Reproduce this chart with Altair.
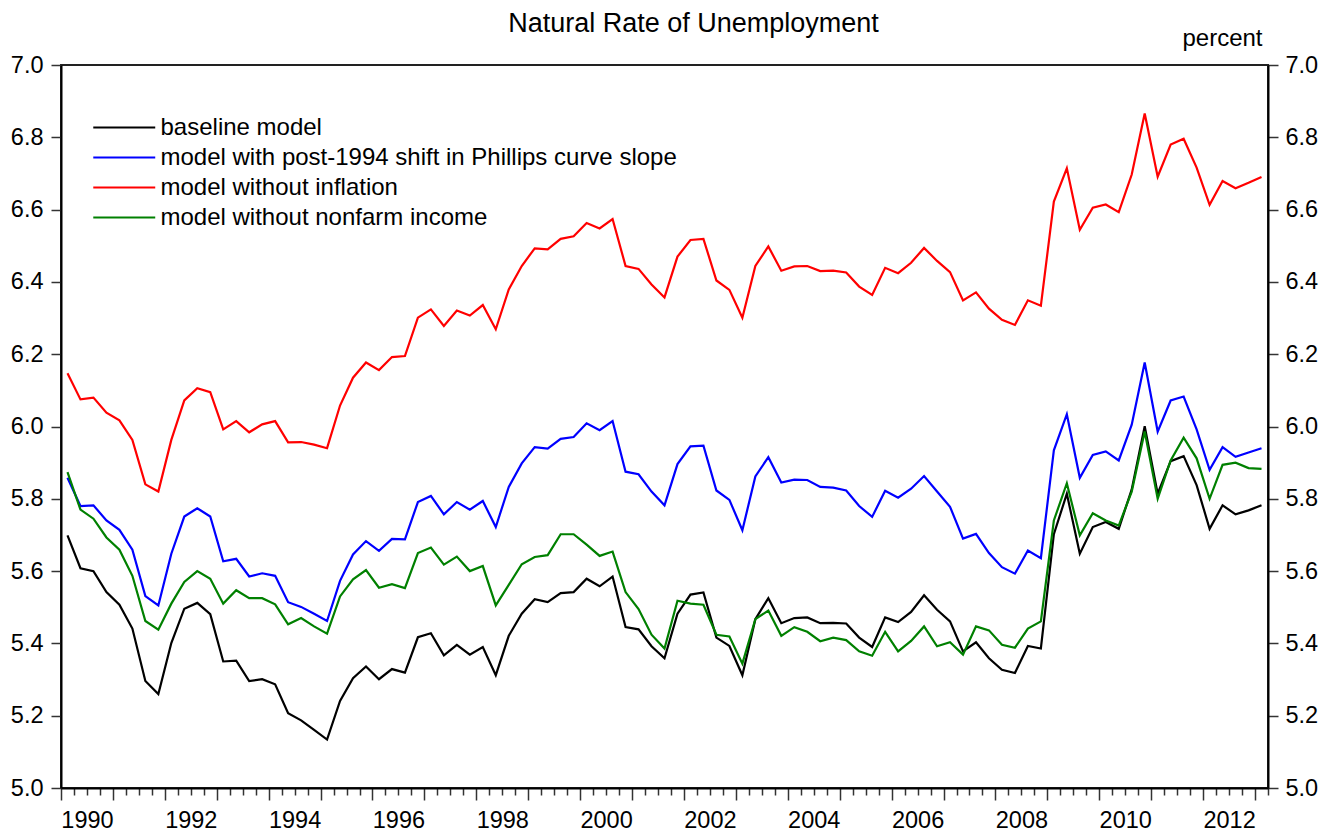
import altair as alt
import pandas as pd

series_names = [
    "baseline model",
    "model with post-1994 shift in Phillips curve slope",
    "model without inflation",
    "model without nonfarm income",
]
series_colors = ["#000000", "#0000FF", "#FF0000", "#008000"]

start_year = 1990  # quarterly, 1990Q1 ..

baseline = [
    5.699, 5.608, 5.600, 5.542, 5.507, 5.441, 5.296, 5.260, 5.401, 5.496, 5.512, 5.481, 5.350, 5.352, 5.296, 5.301,
    5.287, 5.207, 5.187, 5.161, 5.134, 5.241, 5.304, 5.336, 5.301, 5.329, 5.319, 5.417, 5.428, 5.367, 5.396, 5.369,
    5.390, 5.312, 5.421, 5.482, 5.522, 5.514, 5.539, 5.542, 5.579, 5.558, 5.585, 5.445, 5.439, 5.392, 5.359, 5.482,
    5.535, 5.541, 5.416, 5.393, 5.312, 5.467, 5.525, 5.456, 5.470, 5.472, 5.456, 5.457, 5.455, 5.416, 5.390, 5.472,
    5.459, 5.487, 5.533, 5.493, 5.461, 5.378, 5.403, 5.359, 5.327, 5.318, 5.393, 5.386, 5.702, 5.814, 5.648, 5.722,
    5.736, 5.717, 5.826, 6.001, 5.814, 5.904, 5.918, 5.838, 5.717, 5.782, 5.757, 5.768, 5.782,
]
post1994_shift = [
    5.858, 5.780, 5.782, 5.740, 5.714, 5.659, 5.531, 5.505, 5.648, 5.751, 5.774, 5.751, 5.627, 5.634, 5.585, 5.594,
    5.587, 5.514, 5.501, 5.482, 5.462, 5.573, 5.646, 5.683, 5.656, 5.689, 5.688, 5.791, 5.808, 5.757, 5.791, 5.770,
    5.794, 5.722, 5.833, 5.898, 5.943, 5.939, 5.966, 5.971, 6.009, 5.990, 6.015, 5.875, 5.868, 5.820, 5.782, 5.896,
    5.945, 5.947, 5.823, 5.797, 5.713, 5.862, 5.915, 5.845, 5.853, 5.852, 5.833, 5.831, 5.823, 5.780, 5.750, 5.822,
    5.803, 5.828, 5.863, 5.820, 5.778, 5.690, 5.703, 5.650, 5.611, 5.593, 5.657, 5.636, 5.934, 6.034, 5.858, 5.921,
    5.931, 5.906, 6.005, 6.177, 5.986, 6.072, 6.083, 5.992, 5.880, 5.943, 5.916, 5.928, 5.940,
]
no_inflation = [
    6.147, 6.075, 6.080, 6.038, 6.017, 5.963, 5.840, 5.820, 5.963, 6.072, 6.106, 6.095, 5.992, 6.015, 5.984, 6.006,
    6.015, 5.956, 5.957, 5.950, 5.940, 6.058, 6.135, 6.177, 6.156, 6.192, 6.195, 6.301, 6.324, 6.278, 6.321, 6.307,
    6.336, 6.269, 6.379, 6.444, 6.493, 6.490, 6.519, 6.526, 6.563, 6.548, 6.574, 6.444, 6.436, 6.393, 6.357, 6.470,
    6.516, 6.519, 6.404, 6.378, 6.301, 6.444, 6.498, 6.431, 6.443, 6.444, 6.430, 6.431, 6.426, 6.387, 6.364, 6.439,
    6.424, 6.453, 6.494, 6.458, 6.427, 6.349, 6.371, 6.326, 6.295, 6.281, 6.349, 6.334, 6.622, 6.714, 6.544, 6.605,
    6.614, 6.593, 6.697, 6.866, 6.691, 6.780, 6.796, 6.716, 6.613, 6.679, 6.659, 6.674, 6.690,
]
no_nonfarm = [
    5.874, 5.770, 5.745, 5.693, 5.659, 5.587, 5.462, 5.438, 5.510, 5.570, 5.600, 5.579, 5.510, 5.547, 5.525, 5.525,
    5.508, 5.453, 5.470, 5.447, 5.427, 5.530, 5.577, 5.603, 5.554, 5.564, 5.553, 5.650, 5.665, 5.618, 5.640, 5.600,
    5.614, 5.505, 5.562, 5.619, 5.639, 5.644, 5.702, 5.702, 5.673, 5.642, 5.654, 5.542, 5.495, 5.424, 5.386, 5.518,
    5.510, 5.507, 5.424, 5.419, 5.344, 5.467, 5.491, 5.421, 5.445, 5.432, 5.406, 5.416, 5.409, 5.378, 5.366, 5.432,
    5.378, 5.407, 5.447, 5.392, 5.403, 5.369, 5.447, 5.436, 5.396, 5.388, 5.441, 5.461, 5.740, 5.843, 5.699, 5.760,
    5.740, 5.726, 5.820, 5.986, 5.800, 5.906, 5.969, 5.912, 5.800, 5.894, 5.900, 5.885, 5.883,
]

y_ticks = [5.0, 5.2, 5.4, 5.6, 5.8, 6.0, 6.2, 6.4, 6.6, 6.8, 7.0]

rows = []
for k, (name, vals) in enumerate(zip(series_names, [baseline, post1994_shift, no_inflation, no_nonfarm])):
    for i, v in enumerate(vals):
        rows.append({"t": start_year + i / 4 + 0.125, "value": v, "series": name, "k": k})
df = pd.DataFrame(rows)

n_q = len(baseline)
x_max = start_year + n_q / 4
quarter_ticks = [start_year + q * 0.25 for q in range(n_q + 1)]

FONT = "Liberation Sans"
x_scale = alt.Scale(domain=[start_year, x_max], nice=False, zero=False)
y_scale = alt.Scale(domain=[5.0, 7.0], nice=False, zero=False)

lines = alt.Chart(df).mark_line(strokeWidth=2.2).encode(
    x=alt.X(
        "t:Q",
        scale=x_scale,
        axis=alt.Axis(
            orient="bottom",
            values=quarter_ticks,
            title=None,
            grid=False,
            domainColor="#000000",
            domainWidth=2,
            tickColor="#333333",
            tickWidth=1.5,
            tickSize={"condition": {"test": "datum.value % 1 == 0", "value": 12}, "value": 7},
            labelExpr="(datum.value % 2 == 0.5) ? floor(datum.value) : ''",
            labelOverlap=False,
            labelFlush=False,
            labelFontSize=23.5,
            labelColor="#000000",
            labelFont=FONT,
            labelPadding=13,
            labelBaseline="top",
        ),
    ),
    y=alt.Y(
        "value:Q",
        scale=y_scale,
        axis=alt.Axis(
            orient="left",
            values=y_ticks,
            format=".1f",
            title=None,
            grid=False,
            domainColor="#000000",
            domainWidth=2,
            tickColor="#333333",
            tickWidth=1.5,
            tickSize=10,
            labelPadding=8,
            labelFontSize=23.5,
            labelColor="#000000",
            labelFont=FONT,
        ),
    ),
    color=alt.Color(
        "series:N",
        scale=alt.Scale(domain=series_names, range=series_colors),
        sort=series_names,
        legend=alt.Legend(
            title=None,
            orient="none",
            legendX=51.25,
            legendY=50.5,
            direction="vertical",
            symbolType="M-4,0H4",
            symbolSize=240,
            symbolStrokeWidth=2.2,
            labelFontSize=24,
            labelFont=FONT,
            labelColor="#000000",
            labelOffset=24.25,
            rowPadding=6,
            padding=0,
            labelLimit=800,
        ),
    ),
    order="k:Q",
)

right_axis = alt.Chart(df).mark_line(strokeOpacity=0).encode(
    x=alt.X("t:Q", scale=x_scale, axis=None),
    y=alt.Y(
        "value:Q",
        scale=y_scale,
        axis=alt.Axis(
            orient="right",
            values=y_ticks,
            format=".1f",
            title="percent",
            titleAngle=0,
            titleAlign="right",
            titleBaseline="alphabetic",
            titleX=-6,
            titleY=-20,
            titleFontSize=24,
            titleFontWeight="normal",
            titleFont=FONT,
            titleColor="#000000",
            grid=False,
            domainColor="#000000",
            domainWidth=2,
            tickColor="#333333",
            tickWidth=1.5,
            tickSize=10,
            labelPadding=7,
            labelFontSize=23.5,
            labelColor="#000000",
            labelFont=FONT,
        ),
    ),
    detail="series:N",
)

chart = (
    alt.layer(lines, right_axis)
    .resolve_axis(x="independent", y="independent")
    .properties(
        width=1207,
        height=723,
        autosize=alt.AutoSizeParams(type="none"),
        padding={"left": 53, "top": 57, "right": 59, "bottom": 45},
        title=alt.Title(
            "Natural Rate of Unemployment",
            fontSize=27,
            font=FONT,
            fontWeight="normal",
            color="#000000",
            anchor="middle",
            frame="group",
            dx=29,
            baseline="alphabetic",
            offset=-33,
        ),
    )
    .configure(font=FONT, background="#FFFFFF")
    .configure_view(stroke="#222222", strokeWidth=2)
)

chart.save("out.html", embed_options={"renderer": "svg", "actions": False})
